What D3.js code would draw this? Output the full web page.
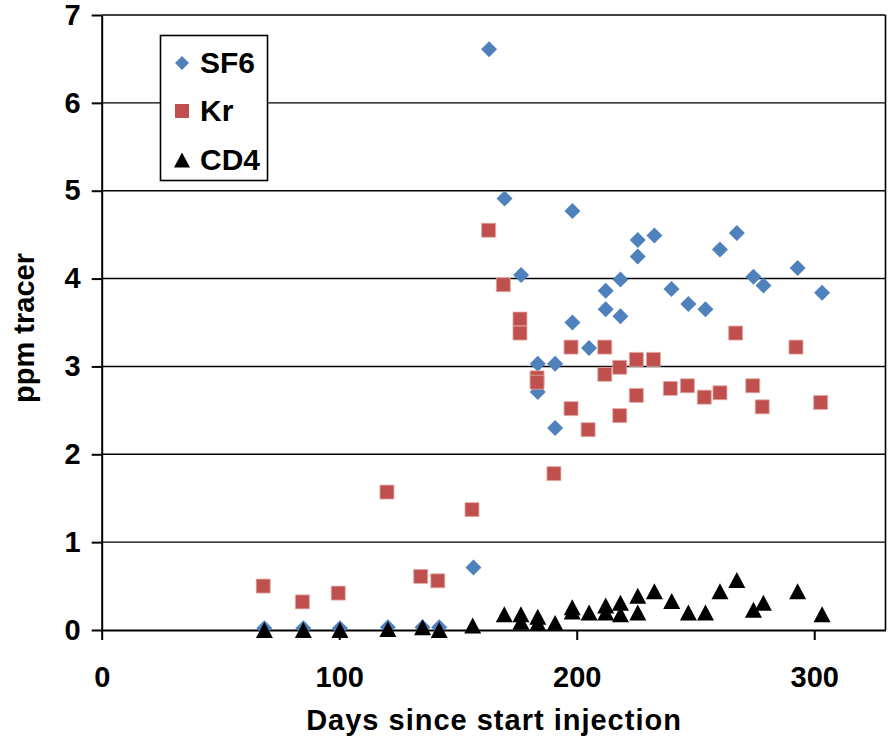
<!DOCTYPE html>
<html>
<head>
<meta charset="utf-8">
<script src="https://cdn.jsdelivr.net/npm/d3@7"></script>
<style>
  body { margin: 0; background: #fff; }
  text { font-family: "Liberation Sans", Arial, sans-serif; font-weight: bold; }
</style>
</head>
<body>
<script>
// Data
const sf6Days = [68.5, 84.9, 100.3, 120.5, 135.1, 142.1, 156.5, 163.1, 169.6, 176.6, 183.6, 183.6, 190.9, 190.9,
  198.2, 198.2, 205.2, 212.2, 212.2, 218.4, 218.4, 225.7, 225.7, 232.7, 239.9, 247, 254.2, 260.3, 267.4, 274.4,
  278.6, 293, 303.3];
const sf6Vals = [0.02, 0.02, 0.02, 0.03, 0.03, 0.03, 0.71, 6.61, 4.91, 4.04, 3.03, 2.71, 3.03, 2.30,
  4.77, 3.50, 3.21, 3.86, 3.65, 3.99, 3.57, 4.44, 4.25, 4.49, 3.88, 3.71, 3.65, 4.33, 4.52, 4.02,
  3.92, 4.12, 3.84];

const krDays = [68, 84.5, 99.6, 120.1, 134.3, 141.5, 155.9, 162.9, 169.1, 176.1, 176.1, 183.3, 183.3, 190.4,
  197.6, 197.6, 204.8, 211.8, 211.8, 218.1, 218.1, 225.1, 225.1, 232.3, 239.4, 246.6, 253.7, 260.3, 266.9,
  274.1, 278.1, 292.3, 302.7];
const krVals = [0.50, 0.32, 0.42, 1.57, 0.61, 0.56, 1.37, 4.55, 3.93, 3.54, 3.38, 2.87, 2.82, 1.78,
  3.22, 2.52, 2.28, 3.22, 2.91, 2.99, 2.44, 3.08, 2.67, 3.08, 2.75, 2.78, 2.65, 2.70, 3.38,
  2.78, 2.54, 3.22, 2.59];

const cd4Days = [68.5, 84.9, 100.3, 120.5, 135.1, 142.1, 156.2, 169.5, 176.5, 176.5, 183.6, 183.6, 190.9,
  198.1, 198.1, 205.2, 212.2, 212.2, 218.4, 218.4, 225.7, 225.7, 232.7, 240, 247, 254.2, 260.3, 267.4,
  274.4, 278.6, 293, 303.3];
const cd4Vals = [0, 0, 0, 0.01, 0.03, 0, 0.05, 0.18, 0.18, 0.095, 0.15, 0.08, 0.08,
  0.26, 0.21, 0.20, 0.28, 0.20, 0.31, 0.18, 0.39, 0.20, 0.44, 0.33, 0.20, 0.20, 0.44, 0.57,
  0.23, 0.31, 0.44, 0.18];

const xTicks = [0, 100, 200, 300];
const yTicks = [0, 1, 2, 3, 4, 5, 6, 7];
const seriesNames = ['SF6', 'Kr', 'CD4'];

const width = 889;
const height = 744;
const plotLeft = 101.7, plotRight = 885.5, plotTop = 15, plotBottom = 630;

const svg = d3.select('body')
  .append('svg')
  .attr('width', width)
  .attr('height', height);

const xScale = d3.scaleLinear().domain([0, 330]).range([plotLeft, plotRight]);
const yScale = d3.scaleLinear().domain([0, 7]).range([plotBottom, plotTop]);

// horizontal gridlines
svg.append('g')
  .selectAll('line')
  .data(yTicks.filter(d => d > 0))
  .enter()
  .append('line')
  .attr('x1', plotLeft)
  .attr('x2', plotRight)
  .attr('y1', d => yScale(d))
  .attr('y2', d => yScale(d))
  .attr('stroke', '#000')
  .attr('stroke-width', 1.4);

// right border
svg.append('line')
  .attr('x1', plotRight).attr('x2', plotRight)
  .attr('y1', plotTop).attr('y2', plotBottom)
  .attr('stroke', '#000')
  .attr('stroke-width', 1.6);

// axes
const xAxis = svg.append('g')
  .attr('transform', 'translate(0,' + plotBottom + ')')
  .call(d3.axisBottom(xScale).tickValues(xTicks).tickFormat(d3.format('d'))
    .tickSize(10).tickPadding(26).tickSizeOuter(0));

const yAxis = svg.append('g')
  .attr('transform', 'translate(' + plotLeft + ',0)')
  .call(d3.axisLeft(yScale).tickValues(yTicks).tickFormat(d3.format('d'))
    .tickSize(10).tickPadding(11).tickSizeOuter(0));

[xAxis, yAxis].forEach(g => {
  g.select('.domain').attr('stroke', '#000').attr('stroke-width', 2);
  g.selectAll('.tick line').attr('stroke', '#000').attr('stroke-width', 2);
  g.selectAll('.tick text')
    .attr('fill', '#000')
    .style('font-size', '29px')
    .style('font-family', '"Liberation Sans", Arial, sans-serif')
    .style('font-weight', 'bold');
});

// axis titles
svg.append('text')
  .attr('x', 494)
  .attr('y', 730)
  .attr('text-anchor', 'middle')
  .style('font-size', '29px')
  .style('letter-spacing', '1px')
  .text('Days since start injection');

svg.append('text')
  .attr('transform', 'translate(34,328) rotate(-90)')
  .attr('text-anchor', 'middle')
  .style('font-size', '29px')
  .text('ppm tracer');

// marker shapes
const diamond = d3.symbol(d3.symbolSquare, 128);
const square = d3.symbol(d3.symbolSquare, 196);
const triShape = {
  draw(ctx, size) {
    const w = Math.sqrt(size), h = w * 0.94;
    ctx.moveTo(0, -h / 2);
    ctx.lineTo(w / 2, h / 2);
    ctx.lineTo(-w / 2, h / 2);
    ctx.closePath();
  }
};
const triangle = d3.symbol(triShape, 289);

const plot = svg.append('g');

plot.selectAll('.sf6')
  .data(sf6Days)
  .enter()
  .append('path')
  .attr('class', 'sf6')
  .attr('d', diamond)
  .attr('transform', (d, i) => 'translate(' + xScale(d) + ',' + yScale(sf6Vals[i]) + ') rotate(45)')
  .attr('fill', '#4F81BD');

plot.selectAll('.kr')
  .data(krDays)
  .enter()
  .append('path')
  .attr('class', 'kr')
  .attr('d', square)
  .attr('transform', (d, i) => 'translate(' + xScale(d) + ',' + yScale(krVals[i]) + ')')
  .attr('fill', '#C0504D')
  .attr('stroke', '#e3a9a7')
  .attr('stroke-width', 0.8);

plot.selectAll('.cd4')
  .data(cd4Days)
  .enter()
  .append('path')
  .attr('class', 'cd4')
  .attr('d', triangle)
  .attr('transform', (d, i) => 'translate(' + xScale(d) + ',' + yScale(cd4Vals[i]) + ')')
  .attr('fill', '#000');

// legend
const legend = svg.append('g');
legend.append('rect')
  .attr('x', 160.5).attr('y', 35.5)
  .attr('width', 107).attr('height', 145)
  .attr('fill', '#fff')
  .attr('stroke', '#000')
  .attr('stroke-width', 1.6);

const legendShapes = [d3.symbol(d3.symbolSquare, 98), d3.symbol(d3.symbolSquare, 196), d3.symbol(triShape, 256)];
const legendColors = ['#4F81BD', '#C0504D', '#000'];
const legendY = [63, 111, 160];

seriesNames.forEach((name, i) => {
  legend.append('path')
    .attr('d', legendShapes[i])
    .attr('transform', 'translate(182,' + legendY[i] + ')' + (i === 0 ? ' rotate(45)' : ''))
    .attr('fill', legendColors[i]);
  legend.append('text')
    .attr('x', 200)
    .attr('y', legendY[i] + 10)
    .style('font-size', '30px')
    .text(name);
});
</script>
</body>
</html>
